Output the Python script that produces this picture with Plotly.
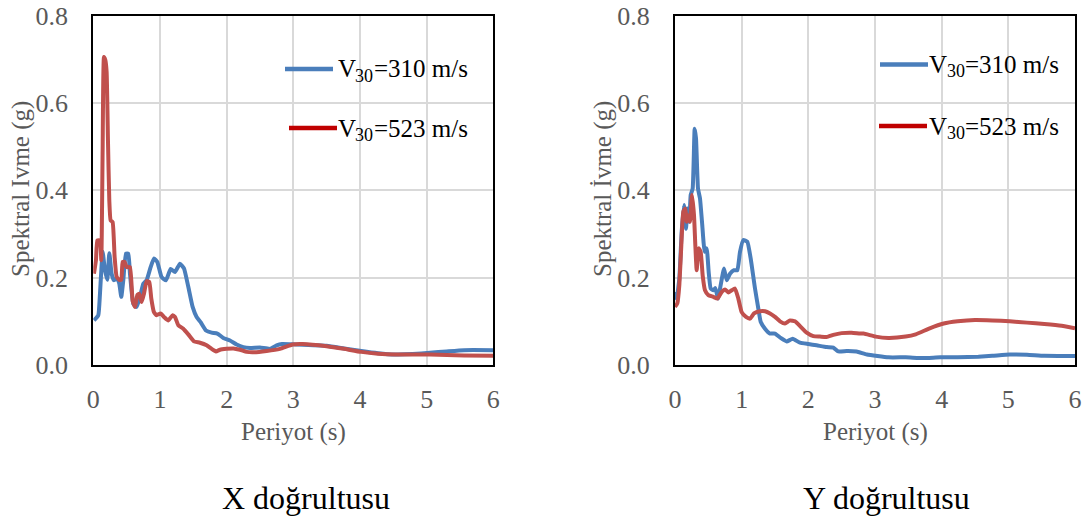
import plotly.graph_objects as go

# ---------------- data ----------------
# X direction, V30 = 310 m/s
period_x_310 = [0.01, 0.075, 0.1, 0.14, 0.175, 0.21, 0.24, 0.275, 0.31, 0.36, 0.39, 0.42, 0.45, 0.49,
                0.525, 0.55, 0.6, 0.65, 0.7, 0.75, 0.8, 0.86, 0.91, 0.96, 1.025, 1.09, 1.16, 1.225,
                1.3, 1.36, 1.425, 1.49, 1.55, 1.61, 1.69, 1.775, 1.86, 1.95, 2.05, 2.15, 2.25, 2.35,
                2.5, 2.65, 2.75, 2.83, 3.04, 3.5, 3.76, 4.02, 4.27, 4.53, 4.79, 5.05, 5.3, 5.56, 6.0]
sa_x_310 = [0.102, 0.114, 0.163, 0.259, 0.217, 0.195, 0.256, 0.209, 0.194, 0.198, 0.186, 0.156, 0.194,
            0.255, 0.255, 0.209, 0.14, 0.133, 0.156, 0.186, 0.194, 0.224, 0.244, 0.236, 0.201, 0.194,
            0.22, 0.213, 0.232, 0.221, 0.179, 0.133, 0.11, 0.098, 0.079, 0.074, 0.072, 0.062, 0.056,
            0.047, 0.041, 0.039, 0.040, 0.037, 0.045, 0.048, 0.047, 0.044, 0.038, 0.032, 0.027, 0.024,
            0.025, 0.028, 0.031, 0.034, 0.034]

# X direction, V30 = 523 m/s
period_x_523 = [0.01, 0.04, 0.06, 0.1, 0.12, 0.14, 0.16, 0.18, 0.2, 0.22, 0.24, 0.26, 0.29, 0.32, 0.35,
                0.39, 0.42, 0.44, 0.47, 0.5, 0.55, 0.59, 0.625, 0.66, 0.69, 0.725, 0.76, 0.8, 0.84,
                0.87, 0.91, 0.95, 1.01, 1.06, 1.125, 1.19, 1.225, 1.275, 1.35, 1.425, 1.51, 1.6, 1.7,
                1.775, 1.84, 1.9, 2.0, 2.1, 2.2, 2.3, 2.4, 2.6, 2.8, 2.99, 3.14, 3.5, 3.76, 4.02, 4.27,
                4.53, 5.05, 5.56, 6.0]
sa_x_523 = [0.209, 0.24, 0.285, 0.285, 0.24, 0.49, 0.705, 0.698, 0.671, 0.514, 0.377, 0.331, 0.327,
            0.247, 0.202, 0.195, 0.195, 0.236, 0.236, 0.224, 0.224, 0.147, 0.133, 0.16, 0.163, 0.144,
            0.163, 0.192, 0.19, 0.152, 0.121, 0.114, 0.118, 0.11, 0.102, 0.114, 0.11, 0.091, 0.083,
            0.07, 0.054, 0.051, 0.045, 0.037, 0.031, 0.035, 0.037, 0.038, 0.035, 0.030, 0.029, 0.032,
            0.037, 0.047, 0.048, 0.043, 0.037, 0.030, 0.026, 0.024, 0.024, 0.022, 0.021]

# Y direction, V30 = 310 m/s
period_y_310 = [0.0, 0.025, 0.065, 0.1, 0.135, 0.165, 0.185, 0.215, 0.235, 0.265, 0.295, 0.315, 0.345,
                0.375, 0.405, 0.445, 0.475, 0.505, 0.535, 0.575, 0.605, 0.645, 0.685, 0.735, 0.775,
                0.825, 0.885, 0.935, 0.975, 1.025, 1.085, 1.135, 1.2, 1.25, 1.285, 1.35, 1.425, 1.5,
                1.585, 1.675, 1.765, 1.875, 2.0, 2.125, 2.275, 2.375, 2.45, 2.575, 2.725, 2.88, 3.2,
                3.46, 3.72, 3.98, 4.24, 4.55, 4.76, 5.02, 5.28, 5.54, 6.0]
sa_y_310 = [0.167, 0.152, 0.198, 0.305, 0.366, 0.312, 0.358, 0.328, 0.389, 0.404, 0.541, 0.519, 0.404,
            0.381, 0.328, 0.259, 0.267, 0.213, 0.175, 0.171, 0.176, 0.152, 0.183, 0.221, 0.194, 0.209,
            0.217, 0.217, 0.259, 0.286, 0.282, 0.244, 0.175, 0.129, 0.099, 0.083, 0.072, 0.072, 0.062,
            0.054, 0.06, 0.051, 0.048, 0.045, 0.041, 0.04, 0.031, 0.032, 0.031, 0.024, 0.0175, 0.0175,
            0.016, 0.0175, 0.0175, 0.019, 0.021, 0.024, 0.0235, 0.021, 0.0205]

# Y direction, V30 = 523 m/s
period_y_523 = [0.0, 0.035, 0.065, 0.095, 0.125, 0.155, 0.175, 0.205, 0.225, 0.255, 0.285, 0.305, 0.325,
                0.355, 0.385, 0.415, 0.45, 0.5, 0.575, 0.635, 0.7, 0.75, 0.8, 0.85, 0.9, 0.95, 1.0,
                1.065, 1.125, 1.185, 1.275, 1.35, 1.425, 1.5, 1.575, 1.65, 1.725, 1.8, 1.875, 1.975,
                2.075, 2.175, 2.275, 2.375, 2.5, 2.65, 2.775, 2.83, 3.01, 3.2, 3.46, 3.61, 3.82, 4.03,
                4.24, 4.5, 4.76, 5.02, 5.28, 5.54, 5.8, 6.0]
sa_y_523 = [0.133, 0.141, 0.183, 0.274, 0.351, 0.358, 0.328, 0.343, 0.328, 0.389, 0.343, 0.274, 0.217,
            0.267, 0.259, 0.205, 0.171, 0.16, 0.156, 0.152, 0.167, 0.173, 0.166, 0.171, 0.175, 0.152,
            0.121, 0.11, 0.106, 0.118, 0.123, 0.123, 0.118, 0.11, 0.1, 0.095, 0.102, 0.1, 0.089, 0.074,
            0.066, 0.065, 0.064, 0.069, 0.073, 0.074, 0.072, 0.072, 0.065, 0.062, 0.065, 0.07, 0.084,
            0.095, 0.100, 0.103, 0.102, 0.100, 0.097, 0.094, 0.090, 0.084]

x_ticks = [0, 1, 2, 3, 4, 5, 6]
y_ticks = [0.0, 0.2, 0.4, 0.6, 0.8]
y_tick_text = ["0.0", "0.2", "0.4", "0.6", "0.8"]

# legend labels: "V" + subscript "30" + rest
series_main = ["V", "V"]
series_sub = ["30", "30"]
series_rest = ["=310 m/s", "=523 m/s"]
panel_titles = ["X doğrultusu", "Y doğrultusu"]
x_title = "Periyot (s)"
y_titles = ["Spektral Ivme (g)", "Spektral İvme (g)"]

# ---------------- styling ----------------
W, H = 1086, 520
FONT = "Liberation Serif"
BLUE = "#4a7ebb"
RED = "#c0504d"
RED_LEG = "#c00000"
GREY = "#595959"
GRID = "#d9d9d9"

def px(x):
    return x / W

def py(y):
    return 1 - y / H

fig = go.Figure()

line_kw = dict(shape="spline", smoothing=0.4, width=4)
fig.add_trace(go.Scatter(x=period_x_310, y=sa_x_310, mode="lines", line=dict(color=BLUE, **line_kw),
                         xaxis="x", yaxis="y", showlegend=False))
fig.add_trace(go.Scatter(x=period_x_523, y=sa_x_523, mode="lines", line=dict(color=RED, **line_kw),
                         xaxis="x", yaxis="y", showlegend=False))
fig.add_trace(go.Scatter(x=period_y_310, y=sa_y_310, mode="lines", line=dict(color=BLUE, **line_kw),
                         xaxis="x2", yaxis="y2", showlegend=False))
fig.add_trace(go.Scatter(x=period_y_523, y=sa_y_523, mode="lines", line=dict(color=RED, **line_kw),
                         xaxis="x2", yaxis="y2", showlegend=False))

ydom = [py(365), py(15.5)]
xax = dict(range=[0, 6], tickvals=x_ticks, showgrid=True, gridcolor=GRID, gridwidth=1.5,
           showline=True, linecolor="black", linewidth=2, mirror=True, zeroline=False, automargin=False,
           ticks="", ticklabelstandoff=10, tickfont=dict(family=FONT, size=26, color=GREY))
yax = dict(range=[0, 0.8], tickvals=y_ticks, ticktext=y_tick_text, showgrid=True, gridcolor=GRID,
           gridwidth=1.5, showline=True, linecolor="black", linewidth=2, mirror=True, zeroline=False,
           automargin=False, ticks="", ticklabelstandoff=18,
           tickfont=dict(family=FONT, size=26, color=GREY))

fig.update_layout(
    width=W, height=H, margin=dict(l=0, r=0, t=0, b=0, autoexpand=False),
    paper_bgcolor="white", plot_bgcolor="white",
    xaxis=dict(domain=[px(93.3), px(493.3)], anchor="y", **xax),
    yaxis=dict(domain=ydom, anchor="x", **yax),
    xaxis2=dict(domain=[px(675), px(1075)], anchor="y2", **xax),
    yaxis2=dict(domain=ydom, anchor="x2", **yax),
    showlegend=False,
)

ann = []
# axis titles
for cx, yt in [(21, y_titles[0]), (603, y_titles[1])]:
    ann.append(dict(x=px(cx), y=py(189), xref="paper", yref="paper", text=yt, textangle=-90,
                    showarrow=False, xanchor="center", yanchor="middle",
                    font=dict(family=FONT, size=25, color=GREY)))
for cx in [293.3, 875]:
    ann.append(dict(x=px(cx), y=py(432), xref="paper", yref="paper", text=x_title,
                    showarrow=False, xanchor="center", yanchor="middle",
                    font=dict(family=FONT, size=25, color=GREY)))
# panel titles
for cx, t in [(306, panel_titles[0]), (886, panel_titles[1])]:
    ann.append(dict(x=px(cx), y=py(498), xref="paper", yref="paper", text=t,
                    showarrow=False, xanchor="center", yanchor="middle",
                    font=dict(family=FONT, size=32, color="black")))

# legends (drawn as line samples + text)
shapes = []
legend_spec = [
    # (line x0, line x1, y, color, text x, series index)
    (285, 333, 69, BLUE, 336, 0),
    (289, 337, 128, RED_LEG, 336, 1),
    (880, 928, 64.5, BLUE, 927, 0),
    (879, 927, 126, RED_LEG, 927, 1),
]
FS_MAIN, FS_SUB = 25, 18
for x0, x1, yy, col, tx, k in legend_spec:
    shapes.append(dict(type="line", xref="paper", yref="paper", x0=px(x0), x1=px(x1),
                       y0=py(yy), y1=py(yy), line=dict(color=col, width=4.5)))
    ann.append(dict(x=px(tx), y=py(yy), xref="paper", yref="paper", text=series_main[k],
                    showarrow=False, xanchor="left", yanchor="middle",
                    font=dict(family=FONT, size=FS_MAIN, color="black")))
    ann.append(dict(x=px(tx + 17.5), y=py(yy + 7), xref="paper", yref="paper", text=series_sub[k],
                    showarrow=False, xanchor="left", yanchor="middle",
                    font=dict(family=FONT, size=FS_SUB, color="black")))
    ann.append(dict(x=px(tx + 36), y=py(yy), xref="paper", yref="paper", text=series_rest[k],
                    showarrow=False, xanchor="left", yanchor="middle",
                    font=dict(family=FONT, size=FS_MAIN, color="black")))

fig.update_layout(annotations=ann, shapes=shapes)

fig.write_html("out.html")
